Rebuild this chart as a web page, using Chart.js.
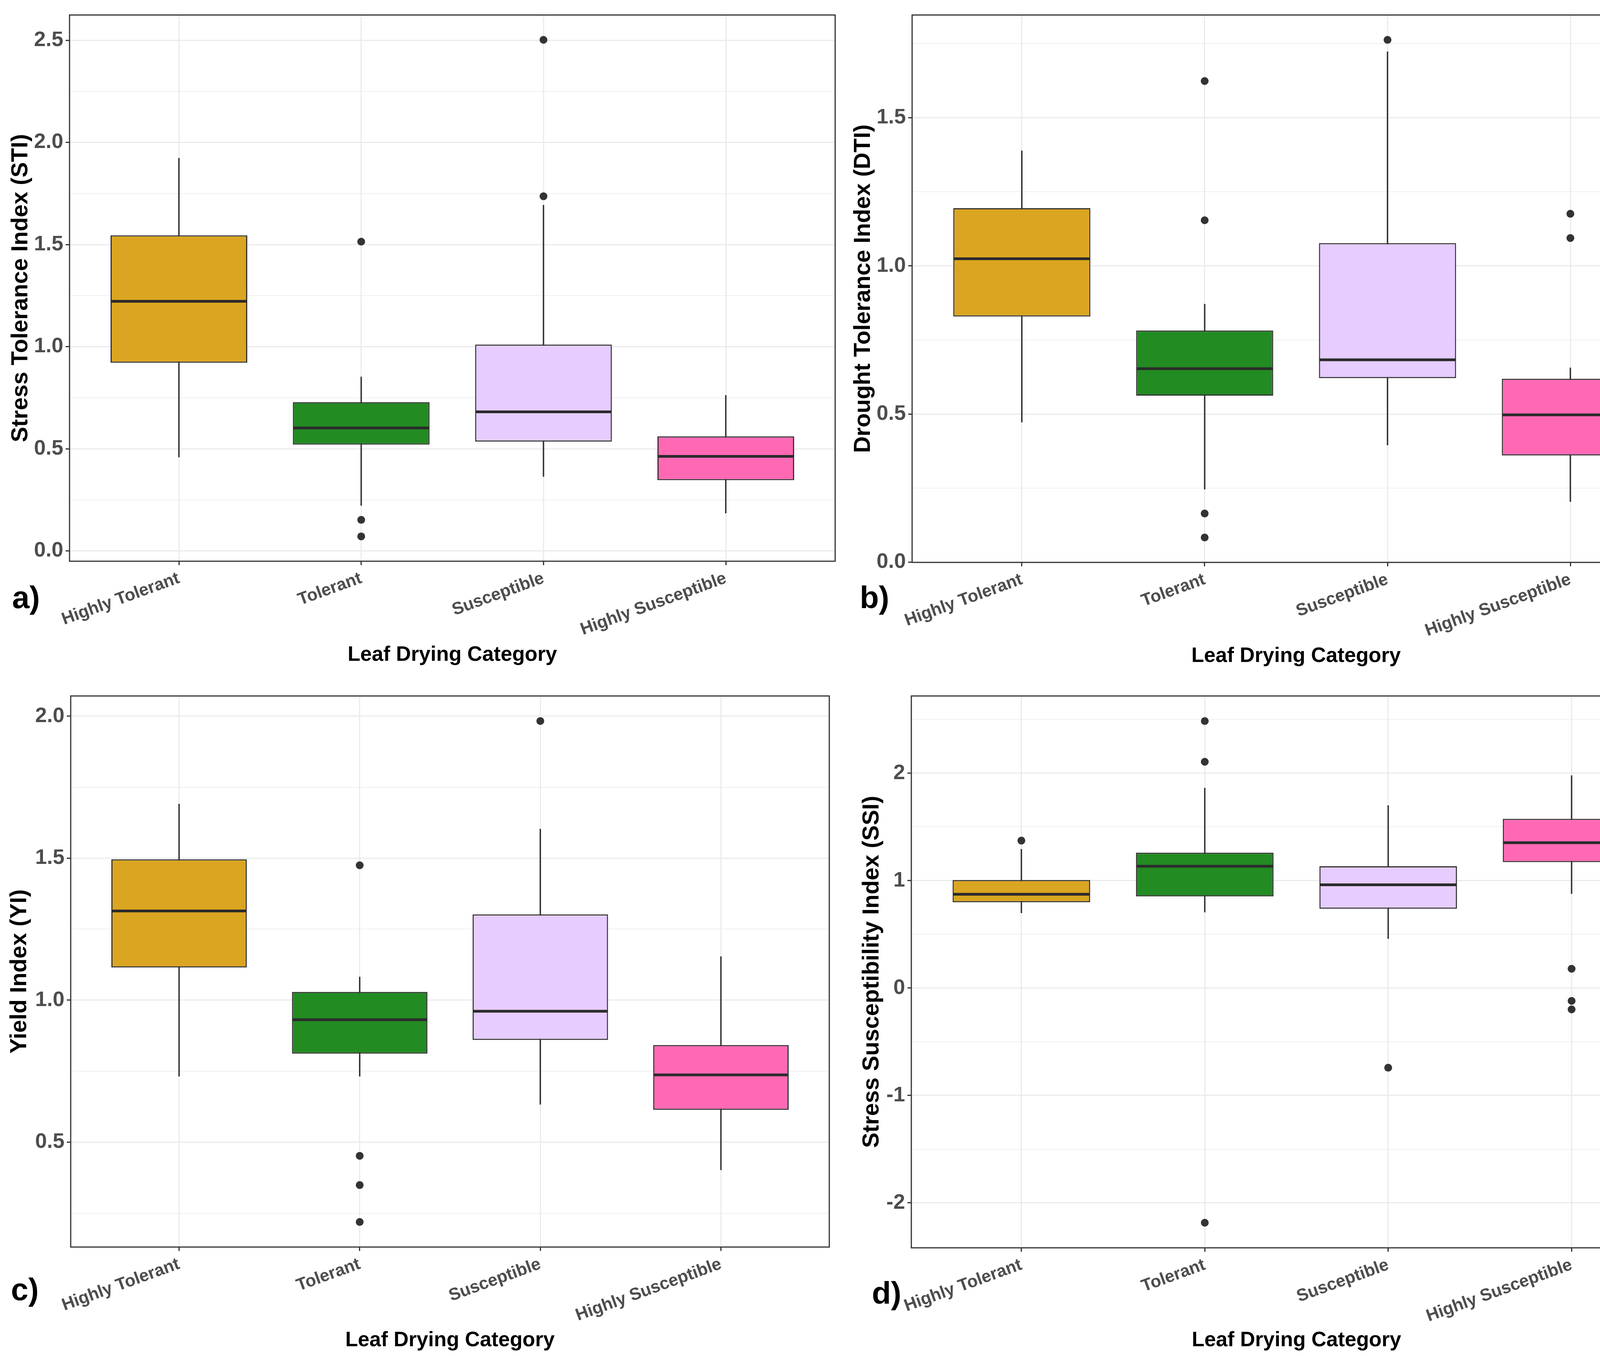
<!DOCTYPE html>
<html>
<head>
<meta charset="utf-8">
<script src="https://cdn.jsdelivr.net/npm/chart.js@4.4.1/dist/chart.umd.min.js"></script>
<style>
  body { margin: 0; width: 4888px; height: 3472px; background: #fff; position: relative; overflow: hidden; font-family: "Liberation Sans", Arial, sans-serif; }
  canvas.panel { position: absolute; }
  .tag { position: absolute; font-weight: bold; font-size: 80px; line-height: 1; color: #000; }
  .legend { position: absolute; color: #000; }
  .legend .ttl { position: absolute; left: 0; font-weight: bold; font-size: 50px; line-height: 1; white-space: nowrap; }
  .legend .item { position: absolute; left: 9px; height: 60px; white-space: nowrap; }
  .legend .key { position: absolute; left: 0; top: 0; width: 56px; height: 60px; }
  .legend .key .stem { position: absolute; left: 26px; top: 0; width: 3px; height: 60px; background: #333; }
  .legend .key .box { position: absolute; left: 0; top: 10px; width: 56px; height: 40px; box-sizing: border-box; border: 3px solid #333; }
  .legend .key .mid { position: absolute; left: 0; top: 28px; width: 56px; height: 4px; background: #333; }
  .legend .lbl { position: absolute; left: 85px; top: 7px; font-size: 46px; line-height: 1; }
</style>
</head>
<body>
<canvas id="chartA" class="panel" width="2150" height="1736" style="left:0;top:0"></canvas>
<canvas id="chartB" class="panel" width="2170" height="1736" style="left:2150px;top:0"></canvas>
<canvas id="chartC" class="panel" width="2150" height="1736" style="left:0;top:1736px"></canvas>
<canvas id="chartD" class="panel" width="2170" height="1736" style="left:2150px;top:1736px"></canvas>
<div class="tag" style="left:31px;top:1490px">a)</div>
<div class="tag" style="left:2201px;top:1490px">b)</div>
<div class="tag" style="left:28px;top:3262px">c)</div>
<div class="tag" style="left:2232px;top:3271px">d)</div>

<script>
const categories = ["Highly Tolerant", "Tolerant", "Susceptible", "Highly Susceptible"];
const fillColors = ["#DAA520", "#228B22", "#E6CCFF", "#FF69B4"];

// a) Stress Tolerance Index
const stiLow = [0.459, 0.222, 0.364, 0.185];
const stiQ1 = [0.921, 0.520, 0.535, 0.346];
const stiMed = [1.222, 0.602, 0.681, 0.463];
const stiQ3 = [1.545, 0.728, 1.010, 0.561];
const stiHigh = [1.923, 0.852, 1.693, 0.762];
const stiOut = [[], [1.514, 0.152, 0.071], [2.502, 1.736], []];
const stiTicks = [0, 0.5, 1, 1.5, 2, 2.5];

// b) Drought Tolerance Index
const dtiLow = [0.472, 0.246, 0.395, 0.204];
const dtiQ1 = [0.829, 0.562, 0.621, 0.360];
const dtiMed = [1.024, 0.653, 0.683, 0.497];
const dtiQ3 = [1.195, 0.782, 1.077, 0.619];
const dtiHigh = [1.389, 0.871, 1.723, 0.656];
const dtiOut = [[], [1.624, 1.154, 0.164, 0.083], [1.763], [1.176, 1.094]];
const dtiTicks = [0, 0.5, 1, 1.5];

// c) Yield Index
const yiLow = [0.732, 0.732, 0.633, 0.402];
const yiQ1 = [1.115, 0.812, 0.860, 0.614];
const yiMed = [1.314, 0.931, 0.961, 0.737];
const yiQ3 = [1.496, 1.029, 1.302, 0.842];
const yiHigh = [1.691, 1.082, 1.603, 1.154];
const yiOut = [[], [1.475, 0.452, 0.349, 0.219], [1.983], []];
const yiTicks = [0.5, 1, 1.5, 2];

// d) Stress Susceptibility Index
const ssiLow = [0.698, 0.706, 0.459, 0.877];
const ssiQ1 = [0.798, 0.853, 0.738, 1.172];
const ssiMed = [0.873, 1.133, 0.961, 1.352];
const ssiQ3 = [1.005, 1.260, 1.133, 1.575];
const ssiHigh = [1.292, 1.862, 1.699, 1.978];
const ssiOut = [[1.372], [2.485, 2.106, -2.185], [-0.742], [0.179, -0.120, -0.199]];
const ssiTicks = [-2, -1, 0, 1, 2];

const FONT = "'Liberation Sans', Arial, sans-serif";
const DARK = "#333333";

const medianLines = {
  id: "medianLines",
  afterDatasetsDraw(chart, args, opts) {
    const meta = chart.getDatasetMeta(1);
    const y = chart.scales.y;
    const ctx = chart.ctx;
    ctx.save();
    ctx.strokeStyle = "#2B2B2B";
    ctx.lineWidth = 7;
    meta.data.forEach((bar, i) => {
      const py = y.getPixelForValue(opts.values[i]);
      ctx.beginPath();
      ctx.moveTo(bar.x - bar.width / 2 + 1, py);
      ctx.lineTo(bar.x + bar.width / 2 - 1, py);
      ctx.stroke();
    });
    ctx.restore();
  }
};

const panelBorder = {
  id: "panelBorder",
  afterDraw(chart) {
    const a = chart.chartArea;
    const ctx = chart.ctx;
    ctx.save();
    ctx.strokeStyle = DARK;
    ctx.lineWidth = 3;
    ctx.strokeRect(a.left, a.top, a.right - a.left, a.bottom - a.top);
    ctx.restore();
  }
};

function makePanel(id, s, g) {
  const all = s.low.concat(s.high, s.out.flat());
  const lo = Math.min(...all), hi = Math.max(...all);
  const pad = (hi - lo) * 0.05;
  const yMin = lo - pad, yMax = hi + pad;

  const step = s.ticks[1] - s.ticks[0];
  const yTicks = [];
  for (let v = s.ticks[0] - step / 2; v <= s.ticks[s.ticks.length - 1] + step / 2 + 1e-9; v += step / 2) {
    const r = Math.round(v * 1000) / 1000;
    if (r >= yMin && r <= yMax) {
      yTicks.push({ value: r, minor: !s.ticks.some(t => Math.abs(t - r) < 1e-6) });
    }
  }

  const outPts = [];
  s.out.forEach((vals, i) => vals.forEach(v => outPts.push({ x: i + 1, y: v })));

  new Chart(document.getElementById(id), {
    type: "bar",
    data: {
      datasets: [
        {
          data: categories.map((c, i) => ({ x: i + 1, y: [s.low[i], s.high[i]] })),
          backgroundColor: DARK,
          barThickness: 3,
          grouped: false,
          order: 3
        },
        {
          data: categories.map((c, i) => ({ x: i + 1, y: [s.q1[i], s.q3[i]] })),
          backgroundColor: fillColors,
          borderColor: DARK,
          borderWidth: 3,
          borderSkipped: false,
          barPercentage: 0.75,
          categoryPercentage: 1,
          grouped: false,
          order: 2
        },
        {
          type: "scatter",
          data: outPts,
          pointRadius: 10,
          pointBackgroundColor: DARK,
          pointBorderWidth: 0,
          order: 1
        }
      ]
    },
    options: {
      responsive: false,
      devicePixelRatio: 1,
      animation: false,
      layout: { padding: { left: 0, top: g.padTop, right: g.padRight, bottom: 0 } },
      plugins: {
        legend: { display: false },
        tooltip: { enabled: false },
        medianLines: { values: s.med }
      },
      scales: {
        x: {
          type: "linear",
          min: 0.4,
          max: 4.6,
          offset: false,
          afterBuildTicks: sc => { sc.ticks = categories.map((c, i) => ({ value: i + 1 })); },
          afterFit: sc => { sc.height = g.xHeight; },
          border: { display: false },
          grid: { offset: false, color: "#EBEBEB", lineWidth: 3, tickColor: DARK, tickLength: 10, tickWidth: 3 },
          ticks: {
            autoSkip: false,
            minRotation: 20,
            maxRotation: 20,
            padding: 8,
            color: "#4D4D4D",
            font: { family: FONT, size: 44, weight: "bold" },
            callback: v => categories[Math.round(v) - 1]
          },
          title: {
            display: true,
            text: "Leaf Drying Category",
            color: "#000",
            font: { family: FONT, size: 53, weight: "bold" },
            padding: { top: 0, bottom: g.xTitlePad }
          }
        },
        y: {
          type: "linear",
          min: yMin,
          max: yMax,
          afterBuildTicks: sc => { sc.ticks = yTicks.map(t => ({ value: t.value, minor: t.minor })); },
          afterFit: sc => { sc.width = g.yWidth; },
          border: { display: false },
          grid: {
            color: "#EBEBEB",
            lineWidth: c => (c.tick && c.tick.minor ? 1.5 : 3),
            tickColor: c => (c.tick && c.tick.minor ? "rgba(0,0,0,0)" : DARK),
            tickLength: 10,
            tickWidth: 3
          },
          ticks: {
            autoSkip: false,
            padding: 6,
            color: "#4D4D4D",
            font: { family: FONT, size: 54, weight: "bold" },
            callback: (v, i, t) => (t[i].minor ? "" : v.toFixed(s.digits))
          },
          title: {
            display: true,
            text: s.title,
            color: "#000",
            font: { family: FONT, size: 59, weight: "bold" },
            padding: { top: g.yTitlePad, bottom: 0 }
          }
        }
      }
    },
    plugins: [medianLines, panelBorder]
  });
}

makePanel("chartA",
  { title: "Stress Tolerance Index (STI)", low: stiLow, q1: stiQ1, med: stiMed, q3: stiQ3, high: stiHigh, out: stiOut, ticks: stiTicks, digits: 1 },
  { yWidth: 178, padTop: 13, xHeight: 299, padRight: 12, yTitlePad: 18, xTitlePad: 27 });
makePanel("chartB",
  { title: "Drought Tolerance Index (DTI)", low: dtiLow, q1: dtiQ1, med: dtiMed, q3: dtiQ3, high: dtiHigh, out: dtiOut, ticks: dtiTicks, digits: 1 },
  { yWidth: 185, padTop: 13, xHeight: 296, padRight: 19, yTitlePad: 25, xTitlePad: 24 });
makePanel("chartC",
  { title: "Yield Index (YI)", low: yiLow, q1: yiQ1, med: yiMed, q3: yiQ3, high: yiHigh, out: yiOut, ticks: yiTicks, digits: 1 },
  { yWidth: 181, padTop: 46, xHeight: 279, padRight: 27, yTitlePad: 15, xTitlePad: 8 });
makePanel("chartD",
  { title: "Stress Susceptibility Index (SSI)", low: ssiLow, q1: ssiQ1, med: ssiMed, q3: ssiQ3, high: ssiHigh, out: ssiOut, ticks: ssiTicks, digits: 0 },
  { yWidth: 183, padTop: 46, xHeight: 277, padRight: 15, yTitlePad: 47, xTitlePad: 8 });

// legends (panels b and d)
function makeLegend(left, titleY, firstY, gap) {
  const box = document.createElement("div");
  box.className = "legend";
  box.style.left = left + "px";
  box.style.top = "0px";
  const ttl = document.createElement("div");
  ttl.className = "ttl";
  ttl.style.top = (titleY - 26) + "px";
  ttl.textContent = "Leaf Drying Category";
  box.appendChild(ttl);
  categories.forEach((c, i) => {
    const item = document.createElement("div");
    item.className = "item";
    item.style.top = (firstY + i * gap - 30) + "px";
    item.innerHTML = '<div class="key"><div class="stem"></div><div class="box" style="background:' +
      fillColors[i] + '"></div><div class="mid"></div></div><div class="lbl"></div>';
    item.querySelector(".lbl").textContent = c;
    box.appendChild(item);
  });
  document.body.appendChild(box);
}
makeLegend(4367, 577, 658, 73);
makeLegend(4367, 2335, 2419, 72);
</script>
</body>
</html>
